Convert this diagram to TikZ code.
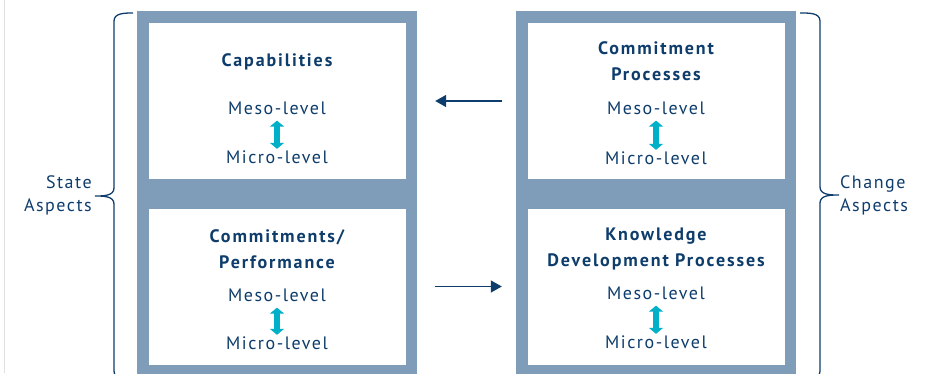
\documentclass[tikz,border=0pt]{standalone}
\usepackage{fontspec}
\setmainfont{PT Sans}[LetterSpace=8.5, BoldFeatures={LetterSpace=10.5}]
\usepackage{tikz}
\usetikzlibrary{arrows.meta}
\usetikzlibrary{positioning}

\definecolor{panelgray}{HTML}{7F9DB8}
\definecolor{navyblue}{HTML}{0E3D6C}
\definecolor{levelcyan}{HTML}{00AFC8}

\begin{document}
\begin{tikzpicture}[x=1pt,y=-1pt]
				\useasboundingbox (0,0) rectangle (930,373);
				\draw[black!12, line width=1pt] (4,0) -- (4,373);
				\fill[panelgray] (137,11) rectangle (417,380);
				\fill[panelgray] (516,11) rectangle (796,380);
				\begin{scope}[every node/.style = {fill=white, inner sep=0pt,
						minimum width=257pt, minimum height=156pt}]
					\node (CapBox) at (277.5,101) {};
					\node (ComBox) at (656.5,101) {};
					\node (PerfBox) at (277.5,286.5) {};
					\node (KnowBox) at (656.5,286.5) {};
				\end{scope}
				\begin{scope}[every node/.style = {text=navyblue, inner sep=0pt, align=center,
						font = \fontsize{18}{26}\selectfont}]
					\node[font = \fontsize{18}{26}\selectfont\bfseries] (CapTitle) at (277,61.5) {Capabilities};
					\node (CapMeso) at (277,108) {Meso-level};
					\node (CapMicro) at (277,157) {Micro-level};
					\node[font = \fontsize{18}{26}\selectfont\bfseries] (ComTitle) at (656,61.5) {Commitment\\Processes};
					\node (ComMeso) at (656,108) {Meso-level};
					\node (ComMicro) at (656,158) {Micro-level};
					\node[font = \fontsize{18}{26}\selectfont\bfseries] (PerfTitle) at (277,249) {Commitments/\\Performance};
					\node (PerfMeso) at (277,295) {Meso-level};
					\node (PerfMicro) at (277,343) {Micro-level};
					\node[font = \fontsize{18}{26}\selectfont\bfseries] (KnowTitle) at (656,249) {Knowledge\\Development Processes};
					\node (KnowMeso) at (656,293) {Meso-level};
					\node (KnowMicro) at (656,342) {Micro-level};
					\node[anchor=east, align=right, font = \fontsize{18}{23}\selectfont] (StateLbl) at (92,195) {State\\Aspects};
					\node[anchor=west, align=left, font = \fontsize{18}{23}\selectfont] (ChangeLbl) at (840,195) {Change\\Aspects};
				\end{scope}
				\begin{scope}[every edge/.style={draw=levelcyan, line width=6pt,
						shorten <=6pt, shorten >=1.5pt}]
					\path [{Triangle[width=14pt,length=6pt]}-{Triangle[width=14pt,length=6pt]}] (CapMeso) edge (CapMicro);
					\path [{Triangle[width=14pt,length=6pt]}-{Triangle[width=14pt,length=6pt]}] (ComMeso) edge (ComMicro);
					\path [{Triangle[width=14pt,length=6pt]}-{Triangle[width=14pt,length=6pt]}] (PerfMeso) edge (PerfMicro);
					\path [{Triangle[width=14pt,length=6pt]}-{Triangle[width=14pt,length=6pt]}] (KnowMeso) edge (KnowMicro);
				\end{scope}
				\begin{scope}[>={Triangle[width=12pt,length=11pt]},
						every edge/.style={draw=navyblue, line width=1.5pt}]
					\path [->] (ComBox) edge[shorten <=26pt, shorten >=29pt] (CapBox);
					\path [->] (PerfBox) edge[shorten <=29pt, shorten >=26pt] (KnowBox);
				\end{scope}
				\begin{scope}[navyblue, line width=1.3pt]
					\draw (133,13) to[out=180,in=90] (114,21) -- (114,188) to[out=-90,in=0] (95,196)
						to[out=0,in=90] (114,204) -- (114,371) to[out=-90,in=180] (133,379);
					\draw (800,13) to[out=0,in=90] (820,21) -- (820,187) to[out=-90,in=180] (839,195)
						to[out=180,in=90] (820,203) -- (820,371) to[out=-90,in=0] (800,379);
				\end{scope}
			\end{tikzpicture}
\end{document}
